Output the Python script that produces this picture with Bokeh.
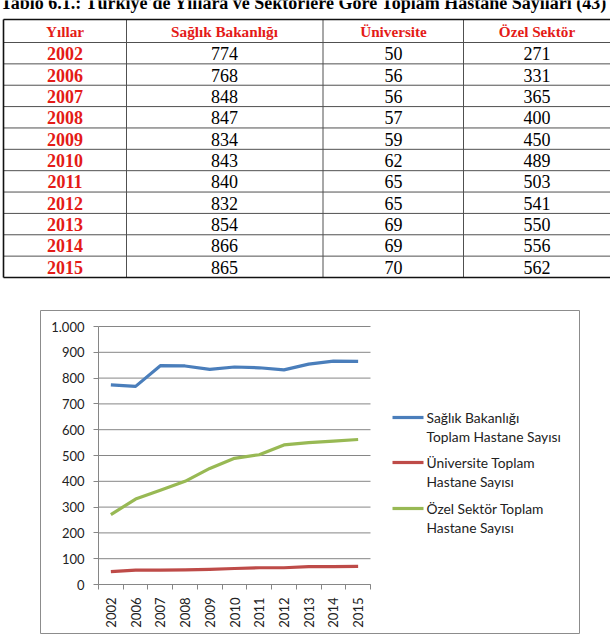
import math
from bokeh.plotting import figure
from bokeh.models import (Range1d, FixedTicker, LinearAxis, ColumnDataSource)
from bokeh.embed import file_html
from bokeh.resources import INLINE
from bokeh.core.properties import value

# ---------------- data ----------------
years = ["2002", "2006", "2007", "2008", "2009", "2010", "2011", "2012", "2013", "2014", "2015"]
saglik = [774, 768, 848, 847, 834, 843, 840, 832, 854, 866, 865]
universite = [50, 56, 56, 57, 59, 62, 65, 65, 69, 69, 70]
ozel = [271, 331, 365, 400, 450, 489, 503, 541, 550, 556, 562]
headers = ["Yıllar", "Sağlık Bakanlığı", "Üniversite", "Özel Sektör"]
legend_lines = [["Sağlık Bakanlığı", "Toplam Hastane Sayısı"],
                ["Üniversite Toplam", "Hastane Sayısı"],
                ["Özel Sektör Toplam", "Hastane Sayısı"]]
y_ticks = [0, 100, 200, 300, 400, 500, 600, 700, 800, 900, 1000]
title = "Tablo 6.1.: Türkiye'de Yıllara ve Sektörlere Göre Toplam Hastane Sayıları (43)"

SERIF = "Liberation Serif"
SANS = "Lato"
RED = "#e41b17"
colors = ["#4a7ebb", "#be4b48", "#98b954"]

W, H = 610, 638
FL, FR, FT, FB = 98, 370, 326, 584   # chart plot area in page pixels
n = len(years)
YMAX = 1000

# page-pixel main ranges; chart ranges mapped onto the plot area
ux = (FR - FL) / n
uy = (FB - FT) / YMAX
cx_range = Range1d(-0.5 - FL / ux, -0.5 + (W - FL) / ux)
cy_range = Range1d(-(H - FB) / uy, FB / uy)

p = figure(width=W, height=H, x_range=Range1d(0, W), y_range=Range1d(H, 0),
           output_backend="svg", toolbar_location=None, min_border=0,
           x_axis_location=None, y_axis_location=None)
p.extra_x_ranges = {"cx": cx_range}
p.extra_y_ranges = {"cy": cy_range}
p.grid.visible = False
p.outline_line_color = None
p.background_fill_color = "white"
p.border_fill_color = "white"

# ---------------- title + table ----------------
p.text(x=[0], y=[2], text=[title], text_font=value(SERIF), text_font_style="bold",
       text_font_size="18px", text_baseline="alphabetic", text_align="left", text_color="black")

top_y, head_y = 19, 42
row_h = (277 - 42) / 11
bottom_y = head_y + row_h * n
col_edges = [3, 126, 322.5, 463, 612]
col_cent = [64.5, 224, 393, 536.5]

hy = [head_y + row_h * k for k in range(n)]
p.segment(x0=[3] * n, x1=[612] * n, y0=hy, y1=hy, line_color="#505050", line_width=1)
p.segment(x0=col_edges[1:4], x1=col_edges[1:4], y0=[top_y] * 3, y1=[bottom_y] * 3,
          line_color="#505050", line_width=1)
p.segment(x0=[3, 3, 3], x1=[612, 612, 3], y0=[top_y, bottom_y, top_y], y1=[top_y, bottom_y, bottom_y],
          line_color="#111111", line_width=1.6)

p.text(x=col_cent, y=[(top_y + head_y) / 2 + 0.5] * 4, text=headers, text_font=value(SERIF),
       text_font_style="bold", text_font_size="15.2px", text_color=RED,
       text_align="center", text_baseline="middle")

row_c = [head_y + row_h * (i + 0.5) + 0.5 for i in range(n)]
p.text(x=[col_cent[0]] * n, y=row_c, text=years, text_font=value(SERIF),
       text_font_style="bold", text_font_size="18px", text_color=RED,
       text_align="center", text_baseline="middle")
for cx, vals in zip(col_cent[1:], [saglik, universite, ozel]):
    p.text(x=[cx] * n, y=row_c, text=[str(v) for v in vals], text_font=value(SERIF),
           text_font_size="18px", text_color="black", text_align="center", text_baseline="middle")

# ---------------- chart border box ----------------
p.quad(left=[40], right=[579], top=[310], bottom=[633], fill_color=None,
       line_color="#8c8c8c", line_width=1)

# ---------------- chart ----------------
xs = list(range(n))
p.segment(x0=[-0.5] * len(y_ticks), x1=[n - 0.5] * len(y_ticks), y0=y_ticks, y1=y_ticks,
          line_color="#868686", line_width=1, x_range_name="cx", y_range_name="cy")

src = ColumnDataSource(dict(x=xs, saglik=saglik, universite=universite, ozel=ozel))
for col, c in zip(["saglik", "universite", "ozel"], colors):
    p.line(x="x", y=col, source=src, line_color=c, line_width=3.2, line_join="round",
           x_range_name="cx", y_range_name="cy")

yax = LinearAxis(x_range_name="cx", y_range_name="cy", fixed_location=-0.5, bounds=(0, YMAX))
yax.ticker = FixedTicker(ticks=y_ticks)
yax.major_label_overrides = {1000: "1.000"}
yax.axis_line_color = "#868686"
yax.major_tick_line_color = "#868686"
yax.major_tick_out = 5
yax.major_tick_in = 0
yax.minor_tick_line_color = None
yax.major_label_standoff = 9
yax.major_label_text_font = SANS
yax.major_label_text_font_size = "13px"
yax.major_label_text_color = "#222222"
p.add_layout(yax, "left")

xax = LinearAxis(x_range_name="cx", y_range_name="cy", fixed_location=0, bounds=(-0.5, n - 0.5))
xax.ticker = FixedTicker(ticks=xs, minor_ticks=[i - 0.5 for i in range(n + 1)])
xax.major_label_overrides = {i: y for i, y in enumerate(years)}
xax.major_label_orientation = math.pi / 2
xax.axis_line_color = "#868686"
xax.major_tick_line_color = None
xax.major_tick_out = 0
xax.major_tick_in = 0
xax.minor_tick_line_color = "#868686"
xax.minor_tick_out = 5
xax.minor_tick_in = 0
xax.major_label_standoff = 8
xax.major_label_text_font = SANS
xax.major_label_text_font_size = "13px"
xax.major_label_text_color = "#222222"
p.add_layout(xax, "below")

# ---------------- legend ----------------
sw_y = [417, 462, 508]
p.segment(x0=[392] * 3, x1=[423] * 3, y0=sw_y, y1=sw_y, line_color=colors, line_width=3.2)
leg_x, leg_y, leg_t = [], [], []
for k, lines in enumerate(legend_lines):
    for j, txt in enumerate(lines):
        leg_x.append(426)
        leg_y.append(sw_y[k] + j * 18.5)
        leg_t.append(txt)
p.text(x=leg_x, y=leg_y, text=leg_t, text_font=value(SANS), text_font_size="13.8px",
       text_color="#222222", text_baseline="middle", text_align="left")

open("out.html", "w").write(file_html(p, INLINE))
